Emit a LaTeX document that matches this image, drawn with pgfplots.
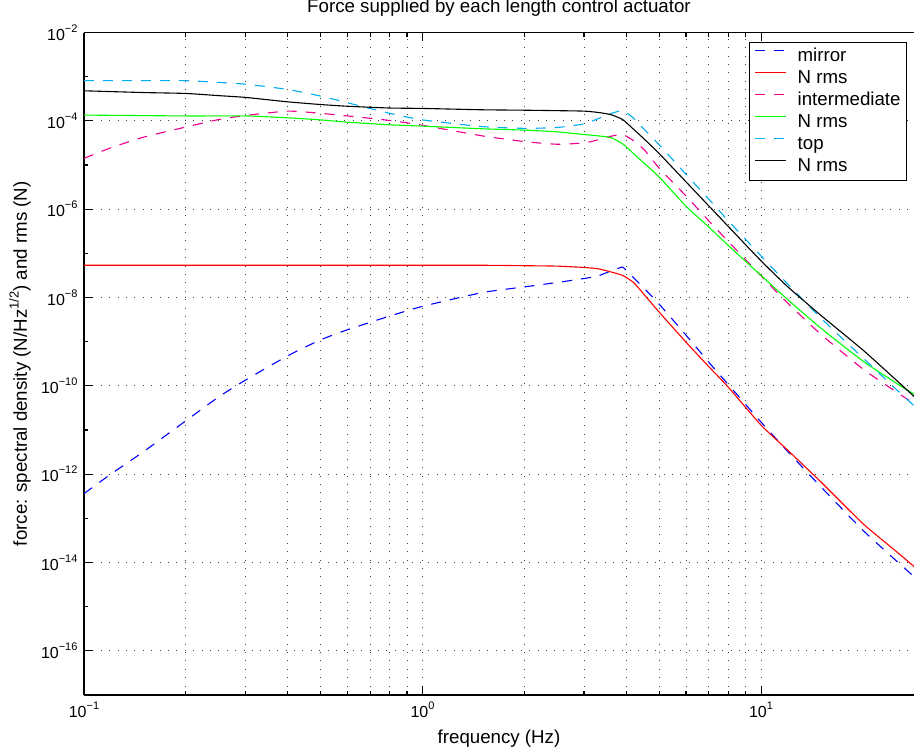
\documentclass[border=0pt]{standalone}
\usepackage{fontspec}
\setmainfont{Liberation Sans}
\usepackage{pgfplots}
\pgfplotsset{compat=1.18}
\newcommand{\tl}[1]{10\raisebox{0.5em}{\fontsize{11}{12}\selectfont #1}}
\begin{document}
\begin{tikzpicture}
\useasboundingbox (0pt,0pt) rectangle (914pt,755pt);
\begin{axis}[
  at={(84pt,60pt)}, anchor=south west,
  scale only axis, width=830pt, height=662.5pt,
  xmode=log, ymode=log,
  xmin=0.1, xmax=28.3, ymin=1e-17, ymax=1e-2,
  axis y line*=left, y axis line style={-},
  axis line style={line width=1.1pt},
  every tick/.style={black, line width=1.1pt},
  major tick length=9pt, minor tick length=4.5pt,
  xtick={0.1,1,10},
  xticklabels={\tl{−1},\tl{0},\tl{1}},
  ytick={1e-16,1e-14,1e-12,1e-10,1e-8,1e-6,1e-4,1e-2},
  yticklabels={\tl{−16},\tl{−14},\tl{−12},\tl{−10},\tl{−8},\tl{−6},\tl{−4},\tl{−2}},
  minor ytick={1e-17,1e-15,1e-13,1e-11,1e-9,1e-7,1e-5,1e-3},
  xmajorgrids=true, xminorgrids=true, ymajorgrids=true, yminorgrids=false,
  major grid style={black!75, line width=0.9pt, dash pattern=on 1.1pt off 7.3pt},
  minor grid style={black!75, line width=0.9pt, dash pattern=on 1.1pt off 7.3pt},
  tick label style={font=\fontsize{16}{18}\selectfont},
  xticklabel style={yshift=-3pt},
  yticklabel style={xshift=-3pt},
  title={Force supplied by each length control actuator},
  title style={at={(axis description cs:0.5,1.0204)}, anchor=base, font=\fontsize{18.7}{21}\selectfont},
  xlabel={frequency (Hz)},
  xlabel style={at={(axis description cs:0.5,-0.0725)}, anchor=base, font=\fontsize{18.7}{21}\selectfont},
  ylabel={force: spectral density (N/Hz\raisebox{0.45em}{\fontsize{13}{14}\selectfont 1/2}) and rms (N)},
  ylabel style={at={(axis description cs:-0.0687,0.5)}, anchor=base, font=\fontsize{18.7}{21}\selectfont},
  legend cell align=left,
  legend image code/.code={\draw[#1, line width=1.3pt] (0pt,5.5pt) -- (31pt,5.5pt);},
  legend style={at={(axis description cs:0.801,0.986)}, anchor=north west,
    line width=1.1pt, fill=white, inner xsep=5pt, inner ysep=3pt,
    font=\fontsize{18.7}{21}\selectfont,
    nodes={inner sep=1pt, text height=15pt, text depth=5pt},
    /tikz/every odd column/.append style={column sep=10pt}},
  every axis plot/.append style={line width=1.1pt},
]
% mirror (blue dashed)
\addplot[color=blue, dash pattern=on 10pt off 9pt, smooth, tension=0.35] coordinates {
(0.1,3.63e-13) (0.12,1.00e-12) (0.15,3.24e-12) (0.2,1.62e-11) (0.25,5.62e-11)
(0.3,1.35e-10) (0.4,4.79e-10) (0.5,1.10e-9) (0.6,1.86e-9) (0.8,3.80e-9)
(1,6.31e-9) (1.5,1.29e-8) (2,1.74e-8) (2.5,2.19e-8) (3,2.69e-8) (3.3,3.09e-8)
(3.6,3.98e-8) (3.9,4.90e-8) (4.0,3.98e-8) (4.2,2.82e-8) (4.5,1.66e-8) (5,7.08e-9)
(6,1.41e-9) (7,3.47e-10) (8,1.07e-10) (10,1.51e-11) (12,3.24e-12) (15,5.25e-13)
(20,5.37e-14) (25,1.12e-14) (28.3,4.79e-15)};
\addlegendentry{mirror}
% mirror rms (red)
\addplot[color=red, smooth, tension=0.35] coordinates {
(0.1,5.37e-8) (0.5,5.37e-8) (1,5.37e-8) (1.5,5.37e-8) (2,5.25e-8) (2.5,5.13e-8)
(3,4.79e-8) (3.3,4.47e-8) (3.6,3.80e-8) (3.9,3.16e-8) (4.2,2.19e-8) (4.5,1.20e-8)
(5,4.68e-9) (6,9.77e-10) (7,2.75e-10) (8,9.33e-11) (10,1.29e-11) (12,3.47e-12)
(15,6.76e-13) (20,7.59e-14) (25,1.82e-14) (28.3,8.13e-15)};
\addlegendentry{N rms}
% intermediate (magenta dashed)
\addplot[color=magenta, dash pattern=on 10pt off 9pt, smooth, tension=0.35] coordinates {
(0.1,1.41e-5) (0.12,2.45e-5) (0.15,4.27e-5) (0.2,7.24e-5) (0.25,1.07e-4)
(0.3,1.32e-4) (0.4,1.66e-4) (0.5,1.48e-4) (0.6,1.29e-4) (0.8,1.02e-4)
(1,7.94e-5) (1.5,4.57e-5) (2,3.39e-5) (2.5,2.95e-5) (3,3.16e-5) (3.3,3.72e-5)
(3.6,4.47e-5) (3.9,4.90e-5) (4.2,3.55e-5) (4.5,2.29e-5) (5,8.51e-6) (6,2.00e-6)
(7,5.50e-7) (8,1.86e-7) (10,3.09e-8) (12,7.41e-9) (15,1.48e-9) (20,2.40e-10)
(25,7.41e-11) (28.3,3.98e-11)};
\addlegendentry{intermediate}
% intermediate rms (green)
\addplot[color=green, smooth, tension=0.35] coordinates {
(0.1,1.35e-4) (0.2,1.29e-4) (0.3,1.29e-4) (0.4,1.17e-4) (0.5,1.05e-4) (0.6,9.33e-5)
(0.8,8.13e-5) (1,7.59e-5) (1.5,6.61e-5) (2,6.17e-5) (2.5,5.62e-5) (3,4.90e-5)
(3.3,4.57e-5) (3.6,4.17e-5) (3.9,3.02e-5) (4.2,1.82e-5) (4.5,1.12e-5) (5,5.37e-6)
(6,1.17e-6) (7,3.98e-7) (8,1.51e-7) (10,3.16e-8) (12,8.91e-9) (15,2.04e-9)
(20,3.63e-10) (25,1.17e-10) (28.3,6.46e-11)};
\addlegendentry{N rms}
% top (cyan dashed)
\addplot[color=cyan, dash pattern=on 10pt off 9pt, smooth, tension=0.35] coordinates {
(0.1,8.13e-4) (0.15,8.13e-4) (0.2,8.13e-4) (0.25,7.41e-4) (0.3,6.76e-4) (0.4,5.13e-4)
(0.5,3.63e-4) (0.6,2.57e-4) (0.8,1.48e-4) (1,1.05e-4) (1.5,7.41e-5) (2,6.76e-5)
(2.5,7.08e-5) (3,8.51e-5) (3.3,1.12e-4) (3.6,1.45e-4) (3.9,1.70e-4) (4.2,1.15e-4)
(4.5,6.61e-5) (5,2.88e-5) (6,6.17e-6) (7,1.70e-6) (8,5.50e-7) (10,8.71e-8)
(12,2.00e-8) (15,3.47e-9) (20,4.27e-10) (25,8.51e-11) (28.3,3.55e-11)};
\addlegendentry{top}
% top rms (black)
\addplot[color=black, smooth, tension=0.35] coordinates {
(0.1,4.79e-4) (0.15,4.37e-4) (0.2,4.17e-4) (0.25,3.72e-4) (0.3,3.39e-4) (0.4,2.69e-4)
(0.5,2.34e-4) (0.6,2.14e-4) (0.8,1.95e-4) (1,1.91e-4) (1.5,1.78e-4) (2,1.74e-4)
(2.5,1.70e-4) (3,1.66e-4) (3.3,1.55e-4) (3.6,1.38e-4) (3.9,1.07e-4) (4.2,6.46e-5)
(4.5,3.98e-5) (5,1.82e-5) (6,4.17e-6) (7,1.20e-6) (8,4.07e-7) (10,6.76e-8)
(12,1.74e-8) (15,3.98e-9) (20,6.46e-10) (25,1.38e-10) (28.3,5.75e-11)};
\addlegendentry{N rms}
\end{axis}
\end{tikzpicture}
\end{document}
